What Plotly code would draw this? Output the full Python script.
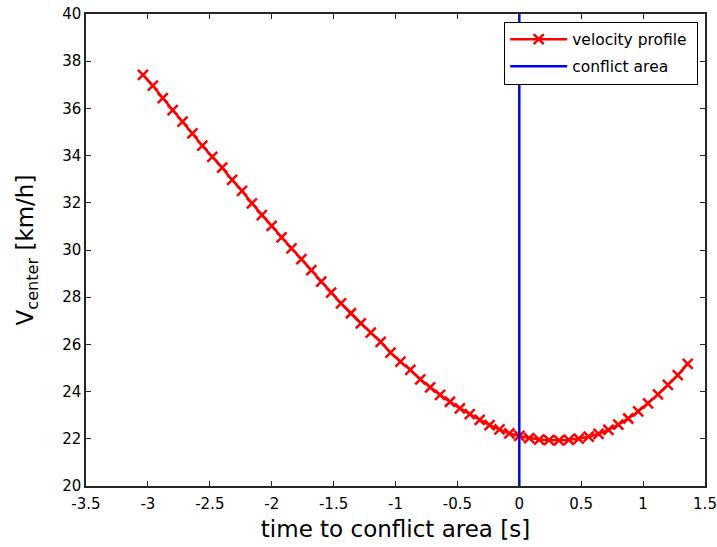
import plotly.graph_objects as go

# time to conflict area [s]
t_values = [round(-3.04 + 0.08 * i, 2) for i in range(56)]
# velocity profile [km/h]
v_values = [
    37.42, 36.96, 36.44, 35.93, 35.44, 34.94, 34.42, 33.95, 33.49, 32.97,
    32.51, 31.98, 31.48, 31.02, 30.54, 30.07, 29.61, 29.15, 28.66, 28.19,
    27.74, 27.32, 26.89, 26.50, 26.11, 25.65, 25.27, 24.92, 24.52, 24.18,
    23.86, 23.57, 23.29, 23.05, 22.80, 22.58, 22.40, 22.23, 22.12, 22.03,
    21.97, 21.94, 21.93, 21.95, 22.01, 22.09, 22.21, 22.38, 22.60, 22.86,
    23.16, 23.50, 23.88, 24.28, 24.70, 25.17,
]
conflict_x = [0, 0]
conflict_y = [20, 40]

x_ticks = [-3.5, -3, -2.5, -2, -1.5, -1, -0.5, 0, 0.5, 1, 1.5]
x_ticktext = ["-3.5", "-3", "-2.5", "-2", "-1.5", "-1", "-0.5", "0", "0.5", "1", "1.5"]
y_ticks = [20, 22, 24, 26, 28, 30, 32, 34, 36, 38, 40]
y_ticktext = [str(v) for v in y_ticks]

FONT = "DejaVu Sans"

fig = go.Figure()
fig.add_trace(go.Scatter(
    x=t_values, y=v_values, mode="lines+markers", name="velocity profile\u00a0",
    legendgroup="a",
    line=dict(color="#ff0000", width=2.5),
    marker=dict(symbol="x-thin", size=10, color="#ff0000",
                line=dict(color="#ff0000", width=2.5)),
))
fig.add_trace(go.Scatter(
    x=conflict_x, y=conflict_y, mode="lines", name="conflict area",
    legendgroup="b",
    line=dict(color="#0000ff", width=2.5),
))

axis_common = dict(
    showgrid=False, zeroline=False, showline=True, linecolor="#262626",
    linewidth=1.5, mirror="ticks", ticks="inside", ticklen=5,
    tickcolor="#262626", tickwidth=1, ticklabeloverflow="allow",
    tickfont=dict(family=FONT, size=15, color="#000000"),
)

fig.update_xaxes(
    range=[-3.5, 1.5], tickvals=x_ticks, ticktext=x_ticktext,
    title=dict(text="time to conflict area [s]",
               font=dict(family=FONT, size=23, color="#000000"), standoff=9),
    ticklabelstandoff=3, **axis_common,
)
fig.update_yaxes(
    range=[20, 40], tickvals=y_ticks, ticktext=y_ticktext,
    title=dict(text="V<sub>center</sub> [km/h]",
               font=dict(family=FONT, size=23, color="#000000"), standoff=22),
    ticklabelstandoff=0, **axis_common,
)

fig.update_layout(
    width=717, height=547,
    margin=dict(l=86, r=12, t=14, b=61, autoexpand=False),
    paper_bgcolor="#ffffff", plot_bgcolor="#ffffff",
    font=dict(family=FONT, color="#000000"),
    showlegend=True,
    legend=dict(
        x=0.989, y=0.984, xanchor="right", yanchor="top",
        bgcolor="#ffffff", bordercolor="#000000", borderwidth=1,
        font=dict(family=FONT, size=15.5, color="#000000"),
        itemwidth=57, tracegroupgap=4,
    ),
)

# remove the browser's default body margin so the figure sits at the page origin
fig.write_html("out.html", config={"displayModeBar": False},
               post_script="document.body.style.margin='0';")
